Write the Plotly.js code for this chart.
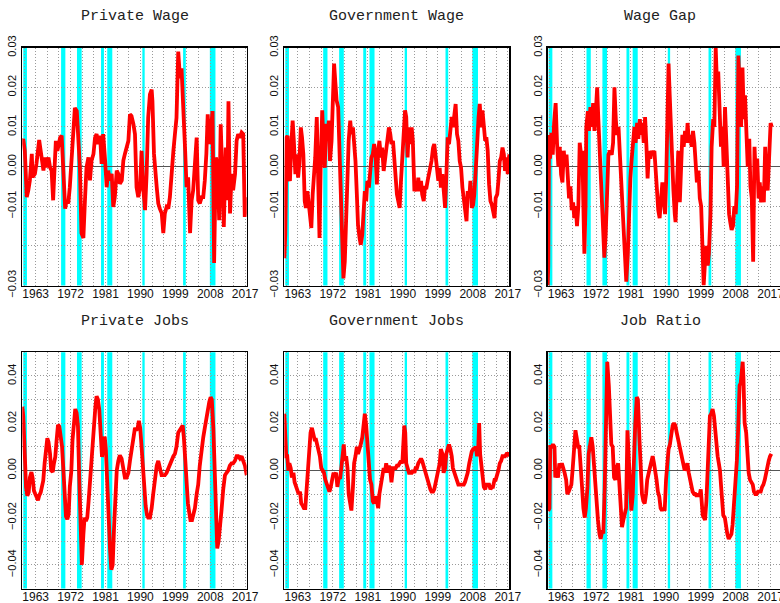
<!DOCTYPE html>
<html><head><meta charset="utf-8">
<script src="https://cdn.plot.ly/plotly-3.0.1.min.js"></script>
<style>html,body{margin:0;padding:0;background:#fff;}#chart{width:780px;height:603px;}</style>
</head><body><div id="chart"></div>
<script>
// ---------- DATA ----------
const panelTitles = ["Private Wage", "Government Wage", "Wage Gap", "Private Jobs", "Government Jobs", "Job Ratio"];

const xTickVals = [1960,1963,1966,1969,1972,1975,1978,1981,1984,1987,1990,1993,1996,1999,2002,2005,2008,2011,2014,2017];
const xTickText = ["","1963","","","1972","","","1981","","","1990","","","1999","","","2008","","","2017"];

const wageTickVals = [-0.03,-0.02,-0.01,0,0.01,0.02,0.03];
const wageTickText = ["\u22120.03","","\u22120.01","0.00","0.01","0.02","0.03"];
const jobTickVals = [-0.04,-0.03,-0.02,-0.01,0,0.01,0.02,0.03,0.04];
const jobTickText = ["\u22120.04","","\u22120.02","","0.00","","0.02","","0.04"];

const recessionStart = [1959.8,1969.55,1973.65,1979.85,1981.45,1990.5,2001.0,2007.9];
const recessionEnd   = [1960.75,1970.65,1974.85,1980.6,1982.75,1991.1,2001.7,2009.35];

const pwYear = [1959.55,1959.8,1960.2,1960.7,1961.1,1961.5,1962.0,1962.2,1962.8,1963.2,
1963.9,1964.3,1964.7,1965.0,1965.4,1965.8,1966.3,1966.7,1967.1,1967.5,
1967.8,1968.2,1968.6,1969.0,1969.3,1969.7,1970.1,1970.6,1971.0,1971.4,
1971.8,1972.3,1972.7,1973.1,1973.6,1974.0,1974.4,1974.8,1975.3,1975.7,
1976.1,1976.6,1977.0,1977.4,1977.9,1978.3,1978.7,1979.1,1979.6,1980.0,
1980.4,1980.9,1981.3,1981.7,1982.1,1982.6,1983.0,1983.4,1983.9,1984.3,
1984.7,1985.2,1985.6,1986.0,1986.4,1986.9,1987.3,1987.7,1988.2,1988.6,
1989.0,1989.45,1989.9,1990.3,1990.7,1991.2,1991.6,1992.0,1992.45,1992.9,
1993.1,1993.5,1994.2,1994.6,1995.0,1995.5,1995.9,1996.3,1996.75,1997.2,
1997.6,1998.0,1998.5,1998.9,1999.3,1999.75,2000.2,2000.6,2001.0,2001.5,
2001.9,2002.3,2002.8,2003.2,2003.6,2004.05,2004.5,2004.9,2005.3,2005.8,
2006.2,2006.6,2007.0,2007.35,2007.75,2008.2,2008.6,2009.0,2009.45,2009.9,
2010.3,2010.7,2011.1,2011.5,2012.0,2012.4,2012.7,2013.1,2013.5,2013.9,
2014.4,2014.8,2015.2,2015.65,2016.1,2016.5,2016.9,2017.4];
const pwValue = [0.0065,0.0069,0.004,-0.0077,-0.006,-0.0035,0.0032,-0.0027,-0.0018,0.0007,
0.0067,0.004,0.0015,-0.001,0.0023,-0.0002,0.0023,-0.0002,-0.001,-0.0085,
-0.0018,0.0065,0.004,0.0057,0.0073,0.0078,-0.0018,-0.0106,-0.0085,-0.0093,
-0.0052,0.0023,0.0098,0.0148,0.014,0.0082,-0.0002,-0.0168,-0.018,-0.0085,
-0.0002,0.0023,-0.0035,0.0015,0.0032,0.0073,0.0082,0.0057,0.0078,0.0007,
0.0082,0.0015,-0.0052,-0.001,-0.0035,-0.0018,-0.0102,-0.0077,-0.001,-0.0018,
-0.0043,-0.0035,0.0015,0.0032,0.0048,0.0065,0.0132,0.0128,0.0107,0.0082,
-0.0052,-0.0077,-0.0052,0.004,-0.0052,-0.011,-0.0018,0.0123,0.0182,0.0194,
0.0165,0.0032,-0.0052,-0.0093,-0.0106,-0.0118,-0.0168,-0.0118,-0.0102,-0.0106,
-0.0077,-0.001,0.004,0.0082,0.0123,0.029,0.0223,0.0248,0.0173,0.0048,
-0.0052,-0.0027,-0.0168,-0.0085,-0.006,0.0015,0.0073,-0.0085,-0.0093,-0.0077,
-0.0077,-0.0035,0.0032,0.0132,0.0057,0.0098,0.014,-0.0243,0.0023,0.0007,
-0.0135,0.0107,-0.0052,-0.0152,0.0048,-0.0085,0.0165,-0.0118,-0.0018,-0.006,
-0.0018,0.0065,0.0082,0.0073,0.0086,0.0082,-0.0127,-0.0077];

const gwYear = [1959.55,1959.8,1960.15,1960.4,1960.7,1961.0,1961.4,1961.7,1962.0,1962.4,
1962.7,1963.1,1963.4,1963.8,1964.1,1964.45,1964.8,1965.1,1965.5,1965.8,
1966.2,1966.5,1966.85,1967.2,1967.5,1967.9,1968.2,1968.6,1968.9,1969.3,
1969.6,1969.95,1970.3,1970.6,1971.0,1971.3,1971.7,1972.0,1972.35,1972.7,
1973.0,1973.4,1973.7,1974.1,1974.4,1974.75,1975.1,1975.45,1975.8,1976.1,
1976.5,1976.8,1977.2,1977.5,1977.85,1978.2,1978.5,1978.9,1979.2,1979.6,
1979.9,1980.25,1980.6,1980.9,1981.3,1981.6,1981.95,1982.3,1982.65,1983.0,
1983.35,1983.7,1984.0,1984.4,1984.7,1985.1,1985.4,1985.75,1986.1,1986.45,
1986.8,1987.1,1987.5,1987.8,1988.2,1988.5,1988.85,1989.2,1989.55,1989.9,
1990.2,1990.6,1990.9,1991.25,1991.6,1991.9,1992.3,1992.6,1993.0,1993.3,
1993.65,1994.0,1994.3,1994.7,1995.0,1995.4,1995.7,1996.1,1996.4,1996.75,
1997.1,1997.4,1997.8,1998.1,1998.5,1998.8,1999.15,1999.5,1999.8,2000.2,
2000.5,2000.9,2001.2,2001.55,2001.9,2002.25,2002.6,2002.9,2003.3,2003.6,
2003.95,2004.3,2004.65,2005.0,2005.35,2005.7,2006.0,2006.4,2006.7,2007.1,
2007.4,2007.75,2008.1,2008.4,2008.8,2009.1,2009.5,2009.8,2010.15,2010.5,
2010.85,2011.2,2011.5,2011.85,2012.2,2012.55,2012.9,2013.2,2013.6,2013.9,
2014.3,2014.6,2014.95,2015.3,2015.65,2016.0,2016.3,2016.7,2017.0,2017.4];
const gwValue = [-0.0231,-0.0172,0.0074,0.0078,-0.0028,-0.0036,0.0065,0.0116,0.0065,-0.0019,
0.0031,-0.0028,0.0006,0.0099,0.0074,0.0031,-0.0087,-0.0104,-0.0062,-0.0096,
-0.0121,-0.0155,-0.007,-0.0019,0.0023,0.0125,-0.0003,-0.018,-0.0003,0.0142,
0.0065,-0.0003,0.0108,0.0065,0.0116,0.0014,0.0065,0.0167,0.026,0.0209,
0.0167,0.015,0.0065,-0.0087,-0.0189,-0.0282,-0.024,-0.0121,-0.0019,0.0065,
0.0116,0.0082,0.0099,0.0057,0.0014,-0.007,-0.0147,-0.018,-0.0197,-0.0172,
-0.0104,-0.0062,-0.0087,-0.0036,-0.0053,-0.0003,0.0023,0.0031,0.0057,0.0031,
-0.0045,0.004,0.0065,0.0023,0.0048,-0.0011,0.0014,0.0048,0.0065,0.0099,
0.0082,0.0057,0.0065,0.0014,-0.0036,-0.007,-0.0087,-0.0104,-0.0036,0.0031,
0.0065,0.0142,0.0125,0.0023,0.0099,0.0057,0.0099,0.0065,-0.0062,-0.0053,
-0.0062,-0.0028,-0.0062,-0.0036,-0.007,-0.0087,-0.0053,-0.0053,-0.0036,-0.0019,
-0.0003,0.0014,0.0048,0.0057,0.0023,-0.0019,-0.0036,-0.0003,-0.0053,-0.0019,
-0.0053,-0.0104,-0.0028,0.0074,0.0057,0.0099,0.0125,0.0099,0.0142,0.0158,
0.0082,0.0065,0.0014,-0.0003,-0.0053,-0.0087,-0.0121,-0.0138,-0.0062,-0.0079,
-0.0036,-0.0104,-0.0096,-0.007,-0.0003,0.0065,0.0125,0.0158,0.0099,0.0142,
0.0108,0.0065,0.0074,0.004,-0.0045,-0.0087,-0.0096,-0.0113,-0.013,-0.0079,
-0.007,-0.0036,0.0014,0.0023,0.0048,0.0031,-0.0011,0.0023,-0.0019,0.0031];

const wgYear = [1959.55,1959.7,1959.9,1960.15,1960.5,1960.85,1961.2,1961.6,1961.95,1962.3,
1962.65,1963.0,1963.35,1963.7,1964.0,1964.4,1964.7,1965.05,1965.4,1965.75,
1966.1,1966.4,1966.8,1967.1,1967.45,1967.8,1968.15,1968.5,1968.7,1969.0,
1969.3,1969.5,1969.9,1970.2,1970.55,1970.9,1971.25,1971.6,1971.9,1972.3,
1972.6,1973.05,1973.5,1973.8,1974.15,1974.5,1974.85,1975.2,1975.6,1976.05,
1976.4,1976.75,1977.1,1977.4,1977.8,1978.1,1978.45,1978.8,1979.15,1979.5,
1979.8,1980.2,1980.5,1980.85,1981.2,1981.55,1981.9,1982.2,1982.6,1982.9,
1983.3,1983.6,1983.95,1984.3,1984.65,1985.0,1985.3,1985.65,1986.0,1986.35,
1986.7,1987.05,1987.4,1987.7,1988.05,1988.4,1988.75,1989.1,1989.45,1989.8,
1990.1,1990.5,1990.7,1991.0,1991.25,1991.6,1991.95,1992.3,1992.5,1992.9,
1993.2,1993.6,1993.9,1994.25,1994.6,1994.95,1995.3,1995.6,1995.95,1996.3,
1996.65,1997.0,1997.35,1997.7,1998.0,1998.4,1998.75,1999.1,1999.4,1999.75,
2000.1,2000.45,2000.8,2001.1,2001.5,2001.8,2002.2,2002.5,2002.85,2003.2,
2003.5,2003.9,2004.2,2004.55,2004.9,2005.25,2005.6,2005.9,2006.3,2006.6,
2006.95,2007.3,2007.65,2008.0,2008.35,2008.7,2009.0,2009.4,2009.75,2010.1,
2010.4,2010.8,2011.1,2011.5,2011.8,2012.15,2012.5,2012.85,2013.2,2013.55,
2013.9,2014.2,2014.55,2014.9,2015.25,2015.6,2015.9,2016.25,2016.6,2017.0,
2017.3];
const wgValue = [-0.030,-0.025,0.008,0.002,0.0085,0.003,0.011,0.016,0.006,0.0,
0.005,-0.002,-0.004,0.004,0.0,0.003,-0.002,-0.008,-0.005,-0.011,
-0.009,-0.013,-0.01,-0.015,-0.01,0.006,0.003,0.004,-0.008,-0.022,
-0.01,0.01,0.014,0.009,0.015,0.01,0.016,0.009,0.013,0.02,
0.012,0.003,-0.006,-0.015,-0.023,-0.017,-0.005,0.003,0.004,0.003,
0.006,0.02,0.012,0.008,0.01,0.004,-0.005,-0.012,-0.02,-0.025,
-0.029,-0.022,-0.01,-0.003,0.002,0.005,0.01,0.006,0.011,0.007,
0.012,0.008,0.011,0.006,0.0125,0.005,-0.003,0.004,0.002,0.004,
0.003,0.004,-0.002,-0.008,-0.011,-0.013,-0.008,-0.004,-0.008,-0.012,
-0.003,0.015,0.026,0.018,0.01,0.003,-0.006,-0.012,-0.014,-0.004,
0.004,-0.009,0.003,0.008,0.005,0.009,0.006,0.011,0.006,0.008,
0.005,0.009,0.006,0.002,-0.004,-0.001,-0.008,-0.01,-0.018,-0.03,
-0.024,-0.02,-0.025,-0.022,-0.012,0.005,0.012,0.01,0.03,0.02,
0.024,0.015,0.005,0.01,0.0,0.015,0.006,-0.006,-0.012,-0.014,
-0.016,-0.015,-0.01,-0.012,-0.005,0.028,0.018,0.01,0.025,0.012,
0.018,0.01,0.0,0.007,-0.005,-0.008,-0.024,0.005,-0.003,0.002,
-0.008,-0.004,-0.009,-0.005,-0.009,0.005,-0.004,-0.006,0.005,0.011,
0.01];

const pjYear = [1959.55,1959.8,1960.15,1960.5,1960.85,1961.2,1961.5,1961.9,1962.2,1962.55,
1962.9,1963.25,1963.6,1963.9,1964.3,1964.6,1964.95,1965.3,1965.65,1966.0,
1966.3,1966.7,1967.0,1967.4,1967.7,1968.05,1968.4,1968.75,1969.1,1969.4,
1969.8,1970.1,1970.5,1970.8,1971.15,1971.5,1971.8,1972.2,1972.5,1972.85,
1973.2,1973.55,1973.9,1974.2,1974.6,1974.9,1975.3,1975.6,1975.95,1976.3,
1976.65,1977.0,1977.3,1977.7,1978.0,1978.4,1978.7,1979.05,1979.4,1979.75,
1980.1,1980.4,1980.8,1981.1,1981.45,1981.8,1982.15,1982.5,1982.85,1983.2,
1983.5,1983.9,1984.3,1984.7,1985.15,1985.6,1986.0,1986.45,1986.9,1987.3,
1987.7,1988.2,1988.6,1988.95,1989.3,1989.6,1989.95,1990.3,1990.65,1991.0,
1991.35,1991.7,1992.0,1992.45,1992.9,1993.3,1993.75,1994.2,1994.6,1995.0,
1995.45,1995.9,1996.3,1996.75,1997.2,1997.6,1998.0,1998.5,1998.9,1999.3,
1999.75,2000.2,2000.5,2000.9,2001.2,2001.6,2001.9,2002.25,2002.6,2002.9,
2003.3,2003.6,2004.05,2004.5,2004.9,2005.3,2005.8,2006.2,2006.6,2007.05,
2007.4,2007.75,2008.1,2008.4,2008.8,2009.1,2009.45,2009.8,2010.15,2010.5,
2010.9,2011.35,2011.8,2012.2,2012.65,2013.05,2013.5,2013.9,2014.35,2014.8,
2015.2,2015.65,2016.1,2016.5,2016.95,2017.4];
const pjValue = [0.027,0.023,0.0086,-0.007,-0.0107,-0.0093,-0.003,-0.0007,-0.003,-0.0086,
-0.01,-0.0114,-0.0126,-0.0107,-0.0093,-0.007,-0.0043,0.0029,0.01,0.0136,
0.0121,0.0071,0.0,-0.0007,0.0029,0.0057,0.0129,0.0193,0.0186,0.0157,
0.01,0.0014,-0.0129,-0.0193,-0.0207,-0.0186,-0.007,0.0,0.0129,0.0229,
0.026,0.0243,0.0186,-0.0014,-0.0271,-0.04,-0.0271,-0.02,-0.0214,-0.02,
-0.0129,-0.0043,0.0029,0.01,0.0214,0.0271,0.0314,0.03,0.0257,0.0157,
0.0057,0.01,0.0143,0.0086,-0.007,-0.02,-0.0329,-0.042,-0.04,-0.0243,
-0.01,0.0,0.004,0.0064,0.005,0.0,-0.003,-0.003,-0.001,0.004,
0.009,0.013,0.018,0.017,0.018,0.021,0.018,0.01,0.0,-0.008,
-0.015,-0.019,-0.02,-0.02,-0.016,-0.01,-0.003,0.002,0.004,0.001,
-0.002,-0.002,-0.002,-0.001,0.001,0.003,0.004,0.006,0.007,0.01,
0.016,0.017,0.018,0.019,0.014,0.002,-0.008,-0.014,-0.018,-0.021,
-0.021,-0.019,-0.016,-0.01,-0.006,0.002,0.01,0.014,0.018,0.022,
0.027,0.029,0.031,0.03,0.018,0.0,-0.022,-0.033,-0.03,-0.025,
-0.017,-0.008,-0.002,-0.001,0.0,0.002,0.003,0.003,0.004,0.006,
0.006,0.005,0.006,0.004,0.002,-0.002];

const gjYear = [1959.55,1959.8,1960.05,1960.3,1960.6,1960.85,1961.2,1961.5,1961.9,1962.2,
1962.55,1962.9,1963.25,1963.6,1963.9,1964.3,1964.6,1964.95,1965.3,1965.65,
1965.95,1966.3,1966.65,1967.0,1967.35,1967.7,1968.05,1968.4,1968.7,1969.05,
1969.4,1969.75,1970.1,1970.45,1970.8,1971.15,1971.5,1971.85,1972.2,1972.5,
1972.85,1973.2,1973.55,1973.9,1974.25,1974.6,1974.85,1975.1,1975.45,1975.8,
1976.1,1976.5,1976.8,1977.2,1977.5,1977.85,1978.2,1978.5,1978.9,1979.2,
1979.6,1979.9,1980.25,1980.6,1980.9,1981.3,1981.6,1981.95,1982.3,1982.65,
1983.0,1983.35,1983.7,1984.0,1984.4,1984.7,1985.1,1985.4,1985.75,1986.1,
1986.45,1986.8,1987.1,1987.5,1987.8,1988.2,1988.5,1988.85,1989.2,1989.55,
1989.9,1990.2,1990.4,1990.65,1990.9,1991.25,1991.6,1991.9,1992.3,1992.6,
1993.0,1993.3,1993.65,1994.0,1994.3,1994.7,1995.0,1995.4,1995.7,1996.1,
1996.4,1996.75,1997.1,1997.4,1997.8,1998.1,1998.5,1998.8,1999.15,1999.5,
1999.8,2000.2,2000.5,2000.9,2001.2,2001.55,2001.9,2002.25,2002.6,2002.9,
2003.3,2003.6,2003.95,2004.3,2004.65,2005.0,2005.35,2005.7,2006.0,2006.4,
2006.7,2007.1,2007.4,2007.75,2008.1,2008.4,2008.8,2009.1,2009.4,2009.65,
2009.9,2010.15,2010.5,2010.85,2011.2,2011.5,2011.85,2012.2,2012.55,2012.9,
2013.2,2013.6,2013.9,2014.3,2014.6,2014.95,2015.3,2015.65,2016.0,2016.3,
2016.7,2017.0,2017.4];
const gjValue = [0.024,0.013,0.006,0.006,0.0,0.003,0.001,-0.003,-0.001,-0.005,
-0.007,-0.009,-0.01,-0.009,-0.014,-0.015,-0.016,-0.016,-0.007,0.004,
0.013,0.016,0.018,0.016,0.013,0.013,0.011,0.009,0.006,0.001,
0.0,-0.001,-0.004,-0.006,-0.008,-0.009,-0.007,-0.004,-0.001,-0.002,
-0.001,-0.007,-0.003,-0.0036,0.001,0.007,0.011,0.004,0.006,0.001,
-0.01,-0.014,-0.017,-0.007,0.003,0.006,0.01,0.007,0.009,0.011,
0.014,0.019,0.024,0.019,0.013,0.006,-0.004,-0.006,-0.013,-0.014,
-0.011,-0.013,-0.016,-0.01,-0.006,-0.003,0.001,-0.001,0.003,-0.001,
0.002,0.0,-0.005,0.001,0.001,0.001,0.002,0.002,0.003,0.004,
0.003,0.01,0.019,0.016,0.003,0.001,-0.001,-0.001,-0.001,0.0,
-0.001,0.001,0.001,0.003,0.004,0.005,0.004,0.002,0.0,-0.002,
-0.004,-0.006,-0.008,-0.009,-0.009,-0.008,-0.005,-0.003,0.0,0.003,
0.009,0.007,-0.001,0.001,0.007,0.01,0.011,0.009,0.006,0.001,
-0.001,-0.003,-0.004,-0.006,-0.006,-0.006,-0.006,-0.006,-0.005,-0.003,
-0.001,0.003,0.006,0.008,0.009,0.009,0.01,0.006,0.009,0.02,
0.007,0.003,-0.004,-0.007,-0.008,-0.006,-0.006,-0.006,-0.008,-0.007,
-0.007,-0.004,-0.004,-0.002,0.0,0.003,0.004,0.006,0.006,0.006,
0.007,0.007,0.006];

const jrYear = [1959.55,1959.7,1960.0,1960.2,1960.6,1960.9,1961.3,1961.5,1961.9,1962.2,
1962.55,1962.9,1963.2,1963.6,1963.9,1964.3,1964.6,1964.95,1965.3,1965.65,
1966.0,1966.3,1966.7,1967.0,1967.4,1967.7,1968.05,1968.4,1968.75,1969.1,
1969.4,1969.8,1970.1,1970.5,1970.8,1971.15,1971.5,1971.85,1972.2,1972.5,
1972.9,1973.2,1973.55,1973.9,1974.25,1974.6,1974.9,1975.3,1975.6,1975.95,
1976.3,1976.65,1977.0,1977.3,1977.7,1978.0,1978.4,1978.7,1979.05,1979.4,
1979.75,1980.1,1980.4,1980.8,1981.1,1981.45,1981.8,1982.1,1982.5,1982.8,
1983.2,1983.5,1983.85,1984.2,1984.55,1984.9,1985.2,1985.6,1985.9,1986.3,
1986.6,1986.95,1987.3,1987.6,1987.95,1988.3,1988.65,1989.0,1989.35,1989.7,
1990.05,1990.4,1990.7,1991.05,1991.4,1991.75,1992.1,1992.45,1992.8,1993.15,
1993.5,1993.8,1994.2,1994.5,1994.85,1995.2,1995.55,1995.9,1996.2,1996.6,
1996.9,1997.3,1997.6,1997.95,1998.3,1998.65,1999.0,1999.5,2000.1,2000.45,
2000.75,2001.05,2001.35,2001.7,2002.05,2002.4,2002.7,2003.05,2003.35,2003.65,
2003.95,2004.25,2004.5,2004.8,2005.2,2005.5,2005.85,2006.2,2006.55,2006.9,
2007.2,2007.55,2007.9,2008.3,2008.6,2009.0,2009.3,2009.65,2009.8,2010.0,
2010.3,2010.7,2011.0,2011.35,2011.7,2012.05,2012.4,2012.7,2013.05,2013.4,
2013.75,2014.1,2014.45,2014.8,2015.15,2015.5,2015.8,2016.2,2016.5,2016.85,
2017.2];
const jrValue = [-0.001,-0.017,-0.016,0.01,0.01,0.011,0.01,-0.003,-0.001,-0.003,
0.003,0.001,0.003,0.001,-0.001,-0.004,-0.01,-0.009,-0.007,-0.006,
0.001,0.009,0.017,0.014,0.01,0.01,0.003,-0.007,-0.016,-0.02,
-0.016,-0.007,0.007,0.013,0.014,0.01,0.001,-0.004,-0.013,-0.021,
-0.027,-0.029,-0.026,-0.026,-0.007,0.03,0.046,0.036,0.019,0.011,
0.01,-0.003,-0.004,0.001,0.003,-0.007,-0.019,-0.024,-0.021,-0.019,
-0.016,0.017,0.004,-0.007,-0.017,-0.011,0.009,0.019,0.031,0.03,
0.013,0.001,-0.01,-0.013,-0.014,-0.01,-0.004,-0.001,0.001,0.004,
0.006,0.003,-0.003,-0.004,-0.009,-0.011,-0.016,-0.017,-0.016,-0.017,
-0.004,0.003,0.009,0.011,0.016,0.019,0.02,0.019,0.016,0.013,
0.01,0.007,0.004,0.001,0.0,0.001,0.003,-0.001,-0.004,-0.007,
-0.009,-0.01,-0.01,-0.011,-0.01,-0.011,-0.008,-0.019,-0.021,-0.013,
0.001,0.016,0.023,0.024,0.026,0.023,0.016,0.01,0.006,0.003,
0.0,-0.007,-0.013,-0.019,-0.02,-0.024,-0.027,-0.029,-0.028,-0.027,
-0.023,-0.016,-0.007,0.004,0.016,0.036,0.037,0.044,0.046,0.039,
0.02,0.016,0.007,-0.001,-0.004,-0.005,-0.006,-0.009,-0.01,-0.01,
-0.009,-0.009,-0.009,-0.007,-0.006,-0.004,-0.001,0.001,0.004,0.006,
0.007];

const seriesYears = [pwYear, gwYear, wgYear, pjYear, gjYear, jrYear];
const seriesValues = [pwValue, gwValue, wgValue, pjValue, gjValue, jrValue];

// ---------- LAYOUT (positions / styles) ----------
const W = 780, H = 603;
const colPx = [[22.3, 246.7], [284.3, 509.3], [547.7, 780]];
const colRange = [[1959.55, 2017.4], [1959.55, 2017.4], [1959.55, 2019.42]];
const rowPx = [[47.7, 285.5], [352.3, 588.5]];
const titleY = [17, 321];
const titleXCenter = [134.5, 396.8, 660];

const layout = {
  width: W, height: H,
  margin: {l: 0, r: 0, t: 0, b: 0, pad: 0},
  paper_bgcolor: '#ffffff', plot_bgcolor: '#ffffff',
  showlegend: false,
  font: {family: 'Liberation Sans, Arial, sans-serif', color: '#111'},
  shapes: [], annotations: []
};
const traces = [];

for (let i = 0; i < 6; i++) {
  const row = Math.floor(i / 3), col = i % 3;
  const n = i === 0 ? '' : String(i + 1);
  const xa = 'xaxis' + n, ya = 'yaxis' + n;
  layout[xa] = {
    domain: [colPx[col][0] / W, colPx[col][1] / W],
    range: colRange[col],
    anchor: 'y' + n,
    tickmode: 'array', tickvals: xTickVals, ticktext: xTickText,
    ticks: '', ticklabeloverflow: 'allow', ticklabelstandoff: -3,
    tickfont: {size: 12, color: '#111', family: 'Liberation Sans, Arial, sans-serif'},
    showgrid: true, gridcolor: '#9a9a9a', griddash: '1px,2px', gridwidth: 1,
    showline: true, linecolor: '#000', linewidth: 1.5, mirror: true,
    zeroline: false, fixedrange: true
  };
  layout[ya] = {
    domain: [1 - rowPx[row][1] / H, 1 - rowPx[row][0] / H],
    range: row === 0 ? [-0.03, 0.03] : [-0.05, 0.05],
    anchor: 'x' + n,
    tickmode: 'array',
    tickvals: row === 0 ? wageTickVals : jobTickVals,
    ticktext: row === 0 ? wageTickText : jobTickText,
    tickangle: -90, ticklabeloverflow: 'allow',
    ticks: '', tickfont: {size: 11, color: '#111', family: 'Liberation Sans, Arial, sans-serif'},
    showgrid: true, gridcolor: '#9a9a9a', griddash: '1px,2px', gridwidth: 1,
    showline: true, linecolor: '#000', linewidth: 1.5, mirror: col < 2,
    zeroline: true, zerolinecolor: '#555', zerolinewidth: 1.5, fixedrange: true
  };
  for (let k = 0; k < recessionStart.length; k++) {
    layout.shapes.push({
      type: 'rect', xref: 'x' + n, yref: 'y' + n + ' domain',
      x0: recessionStart[k], x1: recessionEnd[k], y0: 0, y1: 1,
      fillcolor: '#00ffff', line: {width: 0}, layer: 'below'
    });
  }
  layout.annotations.push({
    xref: 'paper', yref: 'paper',
    x: titleXCenter[col] / W, y: 1 - titleY[row] / H,
    xanchor: 'center', yanchor: 'middle', showarrow: false,
    text: panelTitles[i],
    font: {family: 'Liberation Mono, Courier New, monospace', size: 15, color: '#222'}
  });
  traces.push({
    type: 'scatter', mode: 'lines',
    x: seriesYears[i], y: seriesValues[i],
    xaxis: 'x' + n, yaxis: 'y' + n,
    line: {color: '#ff0000', width: 3.8},
    hoverinfo: 'skip'
  });
}

Plotly.newPlot('chart', traces, layout, {displayModeBar: false, staticPlot: true});
</script>
</body></html>
